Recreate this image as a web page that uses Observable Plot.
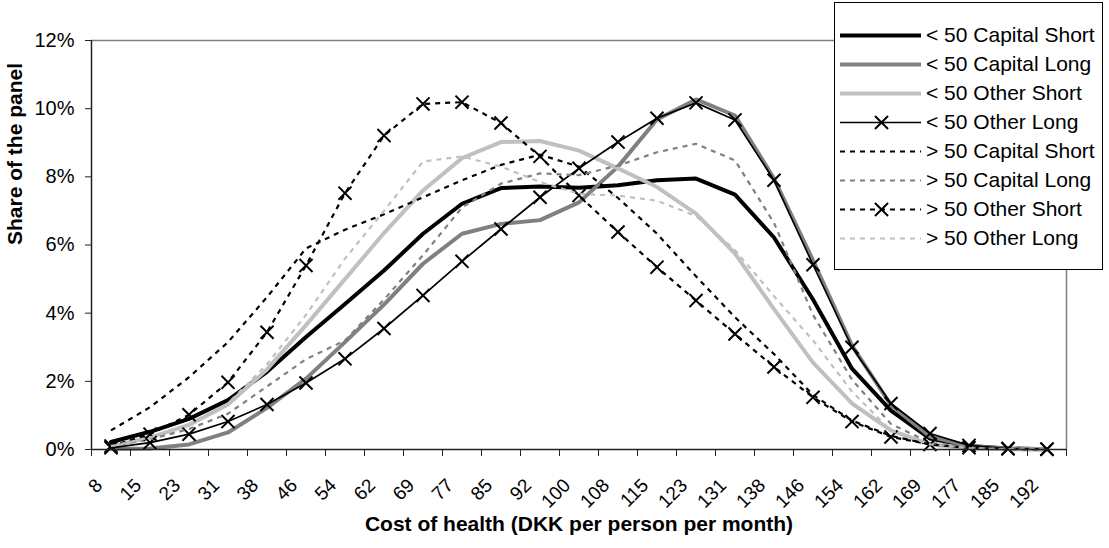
<!DOCTYPE html>
<html><head><meta charset="utf-8">
<script src="https://cdn.jsdelivr.net/npm/d3@7"></script>
<script src="https://cdn.jsdelivr.net/npm/@observablehq/plot@0.6"></script>
<style>
body{margin:0;background:#fff;}
#wrap{position:relative;width:1109px;height:548px;font-family:"Liberation Sans",Arial,sans-serif;}
#legend{position:absolute;left:834px;top:2px;width:267px;height:266px;border:1px solid #000;background:#fff;}
svg{display:block;}
</style></head><body><div id="wrap"><div id="legend"></div></div>
<script>
// ---- data ----
const categories = [8,15,23,31,38,46,54,62,69,77,85,92,100,108,115,123,131,138,146,154,162,169,177,185,192];
const seriesNames = ["< 50 Capital Short","< 50 Capital Long","< 50 Other Short","< 50 Other Long",
                     "> 50 Capital Short","> 50 Capital Long","> 50 Other Short","> 50 Other Long"];
const capShortU50  = [0.22,0.52,0.9,1.45,2.28,3.3,4.27,5.25,6.33,7.21,7.67,7.72,7.68,7.75,7.9,7.95,7.48,6.22,4.4,2.37,1.14,0.32,0.1,0.03,0.01];
const capLongU50   = [0.02,0.03,0.15,0.5,1.22,2.08,3.15,4.25,5.45,6.33,6.62,6.73,7.25,8.3,9.68,10.27,9.8,7.95,5.55,3.05,1.3,0.38,0.1,0.02,0];
const otherShortU50= [0.1,0.35,0.72,1.32,2.35,3.65,5.0,6.35,7.6,8.55,9.02,9.05,8.77,8.25,7.7,6.92,5.75,4.12,2.55,1.35,0.56,0.15,0.04,0.01,0];
const otherLongU50 = [0.05,0.2,0.45,0.82,1.32,1.95,2.66,3.55,4.52,5.52,6.47,7.4,8.25,9.02,9.72,10.17,9.67,7.9,5.42,3.0,1.35,0.47,0.12,0.03,0.01];
const capShortO50  = [0.56,1.24,2.12,3.15,4.47,5.9,6.45,6.9,7.4,7.9,8.35,8.65,8.3,7.38,6.33,5.08,3.88,2.8,1.6,0.85,0.4,0.15,0.05,0.01,0];
const capLongO50   = [0.1,0.3,0.6,1.05,1.85,2.65,3.2,4.4,5.7,7.1,7.8,8.1,8.05,8.33,8.72,8.97,8.48,6.65,3.95,2.05,0.75,0.2,0.05,0.01,0];
const otherShortO50= [0.1,0.45,1.02,1.97,3.44,5.4,7.52,9.21,10.14,10.19,9.58,8.6,7.45,6.38,5.35,4.37,3.39,2.42,1.53,0.82,0.37,0.15,0.05,0.02,0.01];
const otherLongO50 = [0.1,0.35,0.75,1.35,2.5,3.95,5.6,7.0,8.45,8.6,8.3,7.85,7.5,7.45,7.3,6.85,5.85,4.5,3.2,1.7,0.55,0.15,0.04,0.01,0];
const yTicks = [0,0.02,0.04,0.06,0.08,0.10,0.12];
const xTitle = "Cost of health (DKK per person per month)";
const yTitle = "Share of the panel";

// ---- styles ----
const seriesValues = [capShortU50,capLongU50,otherShortU50,otherLongU50,capShortO50,capLongO50,otherShortO50,otherLongO50];
const styles = [
  {stroke:"#000000", width:4,   dash:null,  marker:false},
  {stroke:"#808080", width:4,   dash:null,  marker:false},
  {stroke:"#c0c0c0", width:4,   dash:null,  marker:false},
  {stroke:"#000000", width:1.7, dash:null,  marker:true},
  {stroke:"#000000", width:2.2, dash:"5,5", marker:false},
  {stroke:"#808080", width:2.2, dash:"5,5", marker:false},
  {stroke:"#000000", width:2.2, dash:"5,5", marker:true},
  {stroke:"#c0c0c0", width:2.2, dash:"5,5", marker:false}
];
const FONT = '"Liberation Sans", Arial, sans-serif';

const rows = seriesValues.map((vals, s) => vals.map((v, i) => ({s, i, v: v / 100})));

const marks = [
  Plot.ruleY([yTicks[yTicks.length-1]], {stroke:"#808080", strokeWidth:1.5}),
  Plot.ruleX([categories.length], {stroke:"#808080", strokeWidth:1.5})
];
rows.forEach((data, s) => {
  const st = styles[s];
  marks.push(Plot.line(data, {x: d => d.i + 0.5, y: "v", stroke: st.stroke, strokeWidth: st.width,
    strokeDasharray: st.dash || undefined, strokeLinejoin: "round", strokeLinecap: st.dash ? "butt" : "round"}));
  if (st.marker) marks.push(Plot.dot(data, {x: d => d.i + 0.5, y: "v", symbol: "times", r: 6, stroke: "#000", strokeWidth: 2}));
});
marks.push(
  Plot.ruleX([0], {stroke:"#222", strokeWidth:1.5}),
  Plot.ruleY([0], {stroke:"#222", strokeWidth:1.5}),
  Plot.axisY(yTicks, {tickSize:6, tickPadding:11, tickFormat: d => Math.round(d*100) + "%", fontSize:20, label:null, stroke:"#222"}),
  Plot.axisX(d3.range(categories.length + 1), {tickSize:7, tickFormat: () => "", label:null, stroke:"#222"}),
  Plot.text(categories, {x: (d, i) => i + 0.5, frameAnchor:"bottom", text: d => String(d), rotate:-45,
    textAnchor:"end", lineAnchor:"bottom", dx:-7.5, dy:37, fontSize:19, fill:"#000"}),
  Plot.text([yTitle], {frameAnchor:"left", rotate:-90, dx:-76, fontWeight:"bold", fontSize:21, fill:"#000"}),
  Plot.text([xTitle], {frameAnchor:"bottom", dy:81, fontWeight:"bold", fontSize:21, fill:"#000"})
);

const chart = Plot.plot({
  width:1109, height:548, marginLeft:91, marginRight:43, marginTop:40, marginBottom:99,
  style:{fontFamily:FONT, fontSize:"20px", color:"#000", background:"transparent"},
  x:{domain:[0, categories.length], axis:null},
  y:{domain:[0, yTicks[yTicks.length-1]], axis:null},
  marks
});
document.getElementById("wrap").insertBefore(chart, document.getElementById("legend"));

// ---- legend ----
const lmarks = [];
seriesNames.forEach((name, s) => {
  const st = styles[s];
  lmarks.push(Plot.ruleY([name], {y: d => d, x1: () => 5, x2: () => 86, stroke: st.stroke, strokeWidth: st.width,
    strokeDasharray: st.dash || undefined}));
  if (st.marker) lmarks.push(Plot.dot([name], {y: d => d, x: () => 46, symbol: "times", r: 6, stroke: "#000", strokeWidth: 2}));
});
lmarks.push(Plot.text(seriesNames, {y: d => d, x: () => 90.5, textAnchor:"start", fontSize:21, fill:"#000"}));
const legend = Plot.plot({
  width:267, height:266, margin:0,
  style:{fontFamily:FONT, background:"#fff", color:"#000"},
  x:{domain:[0,267], range:[0,267], axis:null},
  y:{type:"point", domain:seriesNames, range:[16, 250.5], axis:null},
  marks: lmarks
});
document.getElementById("legend").appendChild(legend);
</script>
</body></html>
